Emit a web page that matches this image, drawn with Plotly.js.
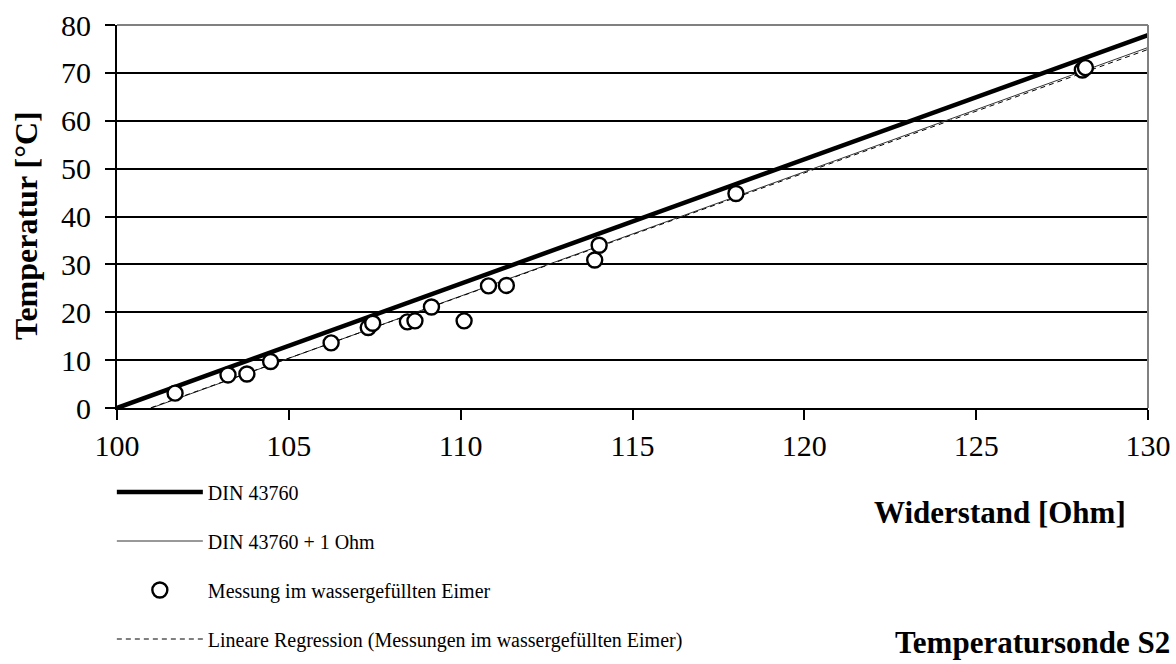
<!DOCTYPE html>
<html>
<head>
<meta charset="utf-8">
<script src="https://cdn.plot.ly/plotly-3.0.1.min.js"></script>
<style>html,body{margin:0;padding:0;background:#fff;}#chart{width:1176px;height:664px;}</style>
</head>
<body>
<div id="chart"></div>
<script>
// DIN 43760 reference curve
var dinR = [100, 130];
var dinT = [0, 77.9];
// DIN 43760 + 1 Ohm
var din1R = [100.5, 130];
var din1T = [-1.3, 75.3];
// Measurements in water-filled bucket
var measR = [101.69, 103.23, 103.78, 104.47, 106.23, 107.31, 107.44, 108.45, 108.67, 109.15, 110.10, 110.81, 111.33, 113.90, 114.03, 118.01, 128.09, 128.18];
var measT = [3.1, 6.9, 7.1, 9.7, 13.6, 16.8, 17.7, 18.0, 18.2, 21.1, 18.2, 25.5, 25.6, 30.9, 34.0, 44.8, 70.6, 71.1];
// Linear regression
var regR = [100.5, 130];
var regT = [-1.2, 74.9];

var xTicks = [100, 105, 110, 115, 120, 125, 130];
var yTicks = [0, 10, 20, 30, 40, 50, 60, 70, 80];

var names = ['DIN 43760', 'DIN 43760 + 1 Ohm', 'Messung im wassergefüllten Eimer', 'Lineare Regression (Messungen im wassergefüllten Eimer)'];

var serif = "'Liberation Serif', 'Times New Roman', serif";

var traces = [
  {x: din1R, y: din1T, mode: 'lines', name: names[1], legend: 'legend2',
   line: {color: '#333', width: 1}},
  {x: regR, y: regT, mode: 'lines', name: names[3], legend: 'legend4',
   line: {color: '#000', width: 1, dash: '5px,4px'}},
  {x: dinR, y: dinT, mode: 'lines', name: names[0], legend: 'legend',
   line: {color: '#000', width: 4.5}},
  {x: measR, y: measT, mode: 'markers', name: names[2], legend: 'legend3',
   marker: {symbol: 'circle', size: 15, color: '#fff', line: {color: '#000', width: 2.4}}}
];

function leg(yp) {
  return {x: -0.005, y: yp, xanchor: 'left', yanchor: 'middle', orientation: 'v',
          bgcolor: 'rgba(0,0,0,0)', borderwidth: 0, itemwidth: 86,
          font: {family: serif, size: 20, color: '#000'}, itemclick: false};
}
function py(p) { return (408 - p) / 383; }

var layout = {
  width: 1176, height: 664,
  margin: {l: 117, r: 28, t: 25, b: 256, autoexpand: false},
  paper_bgcolor: '#fff', plot_bgcolor: '#fff',
  showlegend: true,
  legend: leg(py(492)),
  legend2: leg(py(541)),
  legend3: leg(py(590)),
  legend4: leg(py(639)),
  xaxis: {range: [100, 130], tickvals: xTicks, ticktext: xTicks.map(String),
          showgrid: false, zeroline: false, showline: true, linecolor: '#000', linewidth: 2,
          ticks: 'outside', ticklen: 10, tickwidth: 2, tickcolor: '#000',
          tickfont: {family: serif, size: 30, color: '#000'}},
  yaxis: {range: [0, 80], tickvals: yTicks, ticktext: yTicks.map(String),
          showgrid: true, gridcolor: '#000', gridwidth: 2, zeroline: false,
          showline: true, linecolor: '#000', linewidth: 2,
          ticks: 'outside', ticklen: 10, tickwidth: 2, tickcolor: '#000',
          ticklabelstandoff: 8,
          tickfont: {family: serif, size: 30, color: '#000'}},
  shapes: [
    {type: 'line', xref: 'paper', yref: 'paper', x0: 0, x1: 1, y0: 1, y1: 1, line: {color: '#808080', width: 2}},
    {type: 'line', xref: 'paper', yref: 'paper', x0: 1, x1: 1, y0: 0, y1: 1, line: {color: '#808080', width: 2}}
  ],
  annotations: [
    {text: '<b>Temperatur [°C]</b>', xref: 'paper', yref: 'paper', x: (26 - 117) / 1031, y: py(226),
     textangle: -90, showarrow: false, xanchor: 'center', yanchor: 'middle',
     font: {family: serif, size: 32, color: '#000'}},
    {text: '<b>Widerstand [Ohm]</b>', xref: 'paper', yref: 'paper', x: (1128 - 117) / 1031, y: py(512),
     showarrow: false, xanchor: 'right', yanchor: 'middle',
     font: {family: serif, size: 31, color: '#000'}},
    {text: '<b>Temperatursonde S2</b>', xref: 'paper', yref: 'paper', x: (1172 - 117) / 1031, y: py(642),
     showarrow: false, xanchor: 'right', yanchor: 'middle',
     font: {family: serif, size: 31, color: '#000'}}
  ]
};

Plotly.newPlot('chart', traces, layout, {displayModeBar: false, staticPlot: true});
</script>
</body>
</html>
